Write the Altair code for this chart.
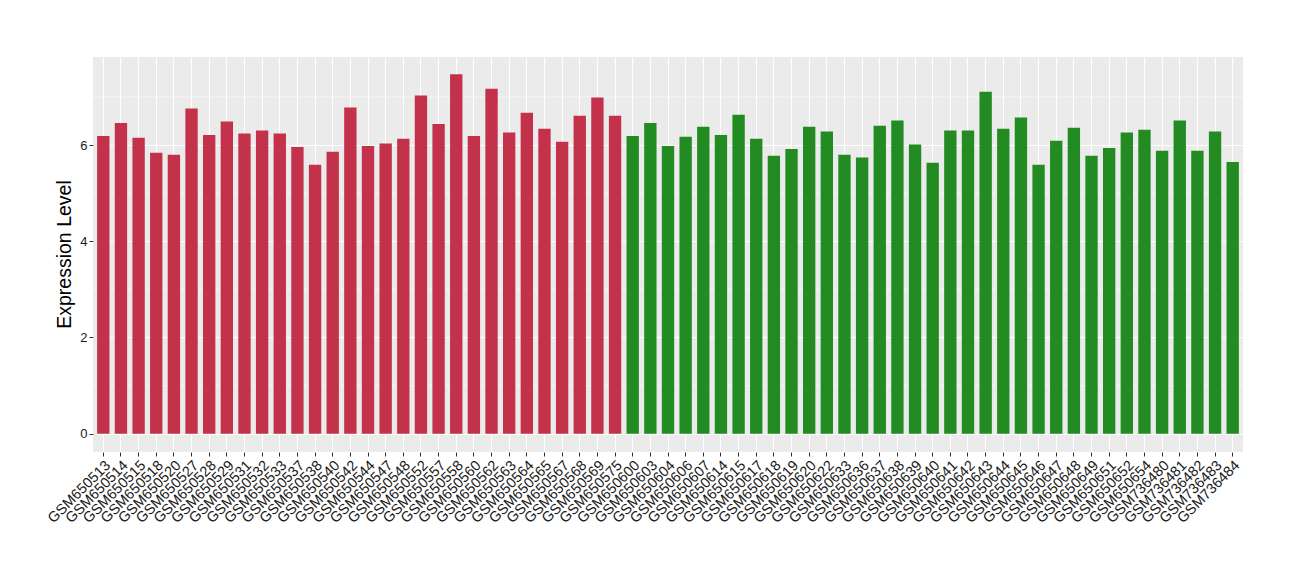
import altair as alt
import pandas as pd

red_samples = ["GSM650513", "GSM650514", "GSM650515", "GSM650518", "GSM650520", "GSM650527",
               "GSM650528", "GSM650529", "GSM650531", "GSM650532", "GSM650533", "GSM650537",
               "GSM650538", "GSM650540", "GSM650542", "GSM650544", "GSM650547", "GSM650548",
               "GSM650552", "GSM650557", "GSM650558", "GSM650560", "GSM650562", "GSM650563",
               "GSM650564", "GSM650565", "GSM650567", "GSM650568", "GSM650569", "GSM650575"]
red_values = [6.19, 6.46, 6.15, 5.84, 5.80, 6.76, 6.21, 6.49, 6.24, 6.30, 6.24, 5.96,
              5.59, 5.86, 6.78, 5.98, 6.03, 6.13, 7.03, 6.44, 7.47, 6.19, 7.17, 6.26,
              6.67, 6.34, 6.07, 6.61, 6.99, 6.61]

green_samples = ["GSM650600", "GSM650603", "GSM650604", "GSM650606", "GSM650607", "GSM650614",
                 "GSM650615", "GSM650617", "GSM650618", "GSM650619", "GSM650620", "GSM650622",
                 "GSM650633", "GSM650636", "GSM650637", "GSM650638", "GSM650639", "GSM650640",
                 "GSM650641", "GSM650642", "GSM650643", "GSM650644", "GSM650645", "GSM650646",
                 "GSM650647", "GSM650648", "GSM650649", "GSM650651", "GSM650652", "GSM650654",
                 "GSM736480", "GSM736481", "GSM736482", "GSM736483", "GSM736484"]
green_values = [6.19, 6.46, 5.98, 6.17, 6.38, 6.21, 6.63, 6.13, 5.78, 5.92, 6.38, 6.28,
                5.80, 5.74, 6.40, 6.51, 6.01, 5.63, 6.30, 6.30, 7.11, 6.34, 6.57, 5.59,
                6.09, 6.36, 5.78, 5.94, 6.26, 6.32, 5.88, 6.51, 5.88, 6.28, 5.65]

group_names = ["group1", "group2"]
group_colors = ["#C3314A", "#228B22"]

y_major = [0, 2, 4, 6]
y_minor = [1, 3, 5, 7]

samples = red_samples + green_samples
df = pd.DataFrame({
    "sample": samples,
    "value": red_values + green_values,
    "group": [group_names[0]] * len(red_samples) + [group_names[1]] * len(green_samples),
})
minor_df = pd.DataFrame({"v": y_minor})

yscale = alt.Scale(domain=[-0.38, 7.83], nice=False, zero=False)
xscale = alt.Scale(domain=samples, paddingInner=0.3, paddingOuter=0.234)

y_axis = alt.Axis(title="Expression Level", values=y_major, format="d",
                  labelFontSize=13, labelColor="#1a1a1a", labelFont="Liberation Sans",
                  labelPadding=2, tickColor="#333333", tickSize=4, domain=False,
                  grid=True, gridColor="white", gridWidth=1.1,
                  titleFont="Liberation Sans", titleFontSize=19.5, titleFontWeight="normal",
                  titleColor="black", titleAngle=-90, titleX=-23, titleY=197,
                  titleAlign="center", titleBaseline="alphabetic")

minor = alt.Chart(minor_df).mark_rule(color="white", strokeWidth=0.55).encode(
    y=alt.Y("v:Q", scale=yscale, axis=y_axis, title="Expression Level")
)

bars = alt.Chart(df).mark_bar().encode(
    x=alt.X("sample:N", scale=xscale, sort=samples,
            axis=alt.Axis(title=None, labelAngle=-45, labelAlign="right", labelBaseline="top",
                          labelPadding=2, labelFontSize=14.5, labelColor="#1a1a1a",
                          labelFont="Liberation Sans", tickColor="#333333", tickSize=4,
                          domain=False, grid=True, gridColor="white", gridWidth=1.1,
                          labelOverlap=False)),
    y=alt.Y("value:Q", scale=yscale, axis=y_axis, title="Expression Level"),
    y2=alt.datum(0),
    color=alt.Color("group:N", scale=alt.Scale(domain=group_names, range=group_colors), legend=None),
)

chart = alt.layer(minor, bars).properties(
    width=1150, height=395,
    background="white",
    autosize=alt.AutoSizeParams(type="none"),
    padding={"left": 85, "top": 49, "right": 40, "bottom": 100},
).configure_view(fill="#EBEBEB", strokeWidth=0)

chart.save("out.html", embed_options={"renderer": "svg", "actions": False})
